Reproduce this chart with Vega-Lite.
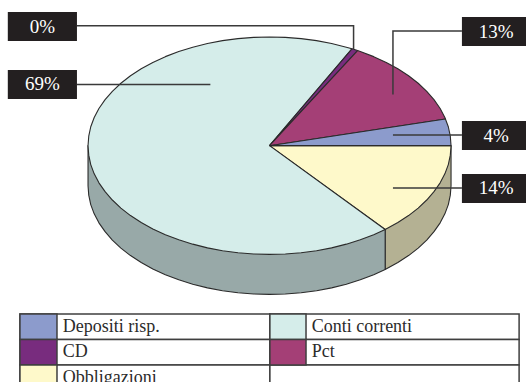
{
  "$schema": "https://vega.github.io/schema/vega-lite/v6.json",
  "width": 526,
  "height": 382,
  "padding": 0,
  "autosize": {"type": "none"},
  "background": "#ffffff",
  "view": {"stroke": null},
  "config": {"style": {"cell": {"stroke": null}}},
  "datasets": {
    "sides": [
      {"part":"Obbligazioni lato","seq":0,"x":100,"y":0},
      {"part":"Obbligazioni lato","seq":1,"x":100,"y":36.8},
      {"part":"Obbligazioni lato","seq":2,"x":99.6,"y":45.5},
      {"part":"Obbligazioni lato","seq":3,"x":98.5,"y":54.2},
      {"part":"Obbligazioni lato","seq":4,"x":96.6,"y":62.7},
      {"part":"Obbligazioni lato","seq":5,"x":94,"y":71},
      {"part":"Obbligazioni lato","seq":6,"x":90.6,"y":79.1},
      {"part":"Obbligazioni lato","seq":7,"x":86.6,"y":86.8},
      {"part":"Obbligazioni lato","seq":8,"x":81.9,"y":94.2},
      {"part":"Obbligazioni lato","seq":9,"x":76.6,"y":101.1},
      {"part":"Obbligazioni lato","seq":10,"x":70.7,"y":107.5},
      {"part":"Obbligazioni lato","seq":11,"x":63.7,"y":113.9},
      {"part":"Obbligazioni lato","seq":12,"x":63.7,"y":77.1},
      {"part":"Obbligazioni lato","seq":13,"x":100,"y":0},
      {"part":"Conti correnti lato","seq":0,"x":63.7,"y":77.1},
      {"part":"Conti correnti lato","seq":1,"x":63.7,"y":113.9},
      {"part":"Conti correnti lato","seq":2,"x":57.4,"y":118.7},
      {"part":"Conti correnti lato","seq":3,"x":50,"y":123.4},
      {"part":"Conti correnti lato","seq":4,"x":42.3,"y":127.4},
      {"part":"Conti correnti lato","seq":5,"x":34.2,"y":130.8},
      {"part":"Conti correnti lato","seq":6,"x":25.9,"y":133.4},
      {"part":"Conti correnti lato","seq":7,"x":17.4,"y":135.3},
      {"part":"Conti correnti lato","seq":8,"x":8.7,"y":136.4},
      {"part":"Conti correnti lato","seq":9,"x":0,"y":136.8},
      {"part":"Conti correnti lato","seq":10,"x":-8.7,"y":136.4},
      {"part":"Conti correnti lato","seq":11,"x":-17.4,"y":135.3},
      {"part":"Conti correnti lato","seq":12,"x":-25.9,"y":133.4},
      {"part":"Conti correnti lato","seq":13,"x":-34.2,"y":130.8},
      {"part":"Conti correnti lato","seq":14,"x":-42.3,"y":127.4},
      {"part":"Conti correnti lato","seq":15,"x":-50,"y":123.4},
      {"part":"Conti correnti lato","seq":16,"x":-57.4,"y":118.7},
      {"part":"Conti correnti lato","seq":17,"x":-64.3,"y":113.4},
      {"part":"Conti correnti lato","seq":18,"x":-70.7,"y":107.5},
      {"part":"Conti correnti lato","seq":19,"x":-76.6,"y":101.1},
      {"part":"Conti correnti lato","seq":20,"x":-81.9,"y":94.2},
      {"part":"Conti correnti lato","seq":21,"x":-86.6,"y":86.8},
      {"part":"Conti correnti lato","seq":22,"x":-90.6,"y":79.1},
      {"part":"Conti correnti lato","seq":23,"x":-94,"y":71},
      {"part":"Conti correnti lato","seq":24,"x":-96.6,"y":62.7},
      {"part":"Conti correnti lato","seq":25,"x":-98.5,"y":54.2},
      {"part":"Conti correnti lato","seq":26,"x":-99.6,"y":45.5},
      {"part":"Conti correnti lato","seq":27,"x":-100,"y":36.8},
      {"part":"Conti correnti lato","seq":28,"x":-100,"y":0},
      {"part":"Conti correnti lato","seq":29,"x":63.7,"y":77.1}
    ],
    "slices": [
      {"part":"Obbligazioni","seq":0,"x":0,"y":0},
      {"part":"Obbligazioni","seq":1,"x":100,"y":0},
      {"part":"Obbligazioni","seq":2,"x":99.6,"y":8.7},
      {"part":"Obbligazioni","seq":3,"x":98.5,"y":17.4},
      {"part":"Obbligazioni","seq":4,"x":96.6,"y":25.9},
      {"part":"Obbligazioni","seq":5,"x":94,"y":34.2},
      {"part":"Obbligazioni","seq":6,"x":90.6,"y":42.3},
      {"part":"Obbligazioni","seq":7,"x":86.6,"y":50},
      {"part":"Obbligazioni","seq":8,"x":81.9,"y":57.4},
      {"part":"Obbligazioni","seq":9,"x":76.6,"y":64.3},
      {"part":"Obbligazioni","seq":10,"x":70.7,"y":70.7},
      {"part":"Obbligazioni","seq":11,"x":63.7,"y":77.1},
      {"part":"Obbligazioni","seq":12,"x":0,"y":0},

      {"part":"Conti correnti","seq":0,"x":0,"y":0},
      {"part":"Conti correnti","seq":1,"x":63.7,"y":77.1},
      {"part":"Conti correnti","seq":2,"x":57.4,"y":81.9},
      {"part":"Conti correnti","seq":3,"x":50,"y":86.6},
      {"part":"Conti correnti","seq":4,"x":42.3,"y":90.6},
      {"part":"Conti correnti","seq":5,"x":34.2,"y":94},
      {"part":"Conti correnti","seq":6,"x":25.9,"y":96.6},
      {"part":"Conti correnti","seq":7,"x":17.4,"y":98.5},
      {"part":"Conti correnti","seq":8,"x":8.7,"y":99.6},
      {"part":"Conti correnti","seq":9,"x":0,"y":100},
      {"part":"Conti correnti","seq":10,"x":-8.7,"y":99.6},
      {"part":"Conti correnti","seq":11,"x":-17.4,"y":98.5},
      {"part":"Conti correnti","seq":12,"x":-25.9,"y":96.6},
      {"part":"Conti correnti","seq":13,"x":-34.2,"y":94},
      {"part":"Conti correnti","seq":14,"x":-42.3,"y":90.6},
      {"part":"Conti correnti","seq":15,"x":-50,"y":86.6},
      {"part":"Conti correnti","seq":16,"x":-57.4,"y":81.9},
      {"part":"Conti correnti","seq":17,"x":-64.3,"y":76.6},
      {"part":"Conti correnti","seq":18,"x":-70.7,"y":70.7},
      {"part":"Conti correnti","seq":19,"x":-76.6,"y":64.3},
      {"part":"Conti correnti","seq":20,"x":-81.9,"y":57.4},
      {"part":"Conti correnti","seq":21,"x":-86.6,"y":50},
      {"part":"Conti correnti","seq":22,"x":-90.6,"y":42.3},
      {"part":"Conti correnti","seq":23,"x":-94,"y":34.2},
      {"part":"Conti correnti","seq":24,"x":-96.6,"y":25.9},
      {"part":"Conti correnti","seq":25,"x":-98.5,"y":17.4},
      {"part":"Conti correnti","seq":26,"x":-99.6,"y":8.7},
      {"part":"Conti correnti","seq":27,"x":-100,"y":0},
      {"part":"Conti correnti","seq":28,"x":-99.6,"y":-8.7},
      {"part":"Conti correnti","seq":29,"x":-98.5,"y":-17.4},
      {"part":"Conti correnti","seq":30,"x":-96.6,"y":-25.9},
      {"part":"Conti correnti","seq":31,"x":-94,"y":-34.2},
      {"part":"Conti correnti","seq":32,"x":-90.6,"y":-42.3},
      {"part":"Conti correnti","seq":33,"x":-86.6,"y":-50},
      {"part":"Conti correnti","seq":34,"x":-81.9,"y":-57.4},
      {"part":"Conti correnti","seq":35,"x":-76.6,"y":-64.3},
      {"part":"Conti correnti","seq":36,"x":-70.7,"y":-70.7},
      {"part":"Conti correnti","seq":37,"x":-64.3,"y":-76.6},
      {"part":"Conti correnti","seq":38,"x":-57.4,"y":-81.9},
      {"part":"Conti correnti","seq":39,"x":-50,"y":-86.6},
      {"part":"Conti correnti","seq":40,"x":-42.3,"y":-90.6},
      {"part":"Conti correnti","seq":41,"x":-34.2,"y":-94},
      {"part":"Conti correnti","seq":42,"x":-25.9,"y":-96.6},
      {"part":"Conti correnti","seq":43,"x":-17.4,"y":-98.5},
      {"part":"Conti correnti","seq":44,"x":-8.7,"y":-99.6},
      {"part":"Conti correnti","seq":45,"x":0,"y":-100},
      {"part":"Conti correnti","seq":46,"x":8.7,"y":-99.6},
      {"part":"Conti correnti","seq":47,"x":17.4,"y":-98.5},
      {"part":"Conti correnti","seq":48,"x":25.9,"y":-96.6},
      {"part":"Conti correnti","seq":49,"x":34.2,"y":-94},
      {"part":"Conti correnti","seq":50,"x":42.3,"y":-90.6},
      {"part":"Conti correnti","seq":51,"x":45.4,"y":-89.1},
      {"part":"Conti correnti","seq":52,"x":0,"y":0},

      {"part":"CD","seq":0,"x":0,"y":0},
      {"part":"CD","seq":1,"x":45.4,"y":-89.1},
      {"part":"CD","seq":2,"x":48.5,"y":-87.5},
      {"part":"CD","seq":3,"x":0,"y":0},

      {"part":"Pct","seq":0,"x":0,"y":0},
      {"part":"Pct","seq":1,"x":48.5,"y":-87.5},
      {"part":"Pct","seq":2,"x":50,"y":-86.6},
      {"part":"Pct","seq":3,"x":57.4,"y":-81.9},
      {"part":"Pct","seq":4,"x":64.3,"y":-76.6},
      {"part":"Pct","seq":5,"x":70.7,"y":-70.7},
      {"part":"Pct","seq":6,"x":76.6,"y":-64.3},
      {"part":"Pct","seq":7,"x":81.9,"y":-57.4},
      {"part":"Pct","seq":8,"x":86.6,"y":-50},
      {"part":"Pct","seq":9,"x":90.6,"y":-42.3},
      {"part":"Pct","seq":10,"x":94,"y":-34.2},
      {"part":"Pct","seq":11,"x":96.6,"y":-25.9},
      {"part":"Pct","seq":12,"x":96.9,"y":-24.5},
      {"part":"Pct","seq":13,"x":0,"y":0},

      {"part":"Depositi risp.","seq":0,"x":0,"y":0},
      {"part":"Depositi risp.","seq":1,"x":96.9,"y":-24.5},
      {"part":"Depositi risp.","seq":2,"x":98.5,"y":-17.4},
      {"part":"Depositi risp.","seq":3,"x":99.6,"y":-8.7},
      {"part":"Depositi risp.","seq":4,"x":100,"y":0},
      {"part":"Depositi risp.","seq":5,"x":0,"y":0}
    ],
    "leaders": [
      {"label":"0%","seq":0,"x":-106.1,"y":-110.4},
      {"label":"0%","seq":1,"x":46.3,"y":-110.4},
      {"label":"0%","seq":2,"x":46.3,"y":-89},
      {"label":"69%","seq":0,"x":-106.1,"y":-56.3},
      {"label":"69%","seq":1,"x":-32.6,"y":-56.3},
      {"label":"13%","seq":0,"x":106,"y":-105.5},
      {"label":"13%","seq":1,"x":68,"y":-105.5},
      {"label":"13%","seq":2,"x":68,"y":-47.1},
      {"label":"4%","seq":0,"x":106,"y":-9.8},
      {"label":"4%","seq":1,"x":68,"y":-9.8},
      {"label":"14%","seq":0,"x":106,"y":38.9},
      {"label":"14%","seq":1,"x":68,"y":38.9}
    ],
    "tags": [
      {"label":"0%","x":-144.2,"x2":-106.1,"y":-123,"y2":-96.3,"tx":-125.1,"ty":-109.6},
      {"label":"69%","x":-144.2,"x2":-106.1,"y":-69.6,"y2":-43,"tx":-125.1,"ty":-56.3},
      {"label":"13%","x":106,"x2":141.3,"y":-118.4,"y2":-91.7,"tx":124.8,"ty":-105},
      {"label":"4%","x":106,"x2":141.3,"y":-22.7,"y2":4,"tx":124.8,"ty":-9.3},
      {"label":"14%","x":106,"x2":141.3,"y":26,"y2":52.7,"tx":124.8,"ty":39.4}
    ],
    "table": [
      {"part":"Depositi risp.","x":-137.5,"x2":-117.1,"y":154.8,"y2":178.3,"tx":-113.9,"ty":166.5},
      {"part":"CD","x":-137.5,"x2":-117.1,"y":178.3,"y2":201.7,"tx":-113.9,"ty":190},
      {"part":"Obbligazioni","x":-137.5,"x2":-117.1,"y":201.7,"y2":225.2,"tx":-113.9,"ty":213.5},
      {"part":"Conti correnti","x":0.2,"x2":20.1,"y":154.8,"y2":178.3,"tx":23.2,"ty":166.5},
      {"part":"Pct","x":0.2,"x2":20.1,"y":178.3,"y2":201.7,"tx":23.2,"ty":190}
    ],
    "tableCells": [
      {"x":-137.5,"x2":0.2,"y":154.8,"y2":178.3},
      {"x":-137.5,"x2":0.2,"y":178.3,"y2":201.7},
      {"x":-137.5,"x2":0.2,"y":201.7,"y2":225.2},
      {"x":0.2,"x2":137.5,"y":154.8,"y2":178.3},
      {"x":0.2,"x2":137.5,"y":178.3,"y2":201.7},
      {"x":0.2,"x2":137.5,"y":201.7,"y2":225.2}
    ]
  },
  "encoding": {
    "x": {"field": "x", "type": "quantitative", "axis": null,
          "scale": {"domain": [-148.5, 141.3], "nice": false, "zero": false}},
    "y": {"field": "y", "type": "quantitative", "axis": null,
          "scale": {"domain": [-134, 217.4], "nice": false, "zero": false, "reverse": true}}
  },
  "layer": [
    {
      "data": {"name": "sides"},
      "mark": {"type": "line", "stroke": "#2b2b2b", "strokeWidth": 1.1, "strokeJoin": "round"},
      "encoding": {
        "order": {"field": "seq", "type": "quantitative"},
        "fill": {"field": "part", "type": "nominal", "legend": null,
                 "scale": {"domain": ["Depositi risp.", "CD", "Obbligazioni", "Conti correnti", "Pct", "Obbligazioni lato", "Conti correnti lato"],
                           "range": ["#8c9bcc", "#782c7e", "#fef9ca", "#d5edea", "#a43f76", "#b4b193", "#98a9a8"]}}
      }
    },
    {
      "data": {"name": "slices"},
      "mark": {"type": "line", "stroke": "#2b2b2b", "strokeWidth": 1.1, "strokeJoin": "round"},
      "encoding": {
        "order": {"field": "seq", "type": "quantitative"},
        "fill": {"field": "part", "type": "nominal", "legend": null}
      }
    },
    {
      "data": {"name": "leaders"},
      "mark": {"type": "line", "stroke": "#3a3a3a", "strokeWidth": 1.5},
      "encoding": {
        "order": {"field": "seq", "type": "quantitative"},
        "detail": {"field": "label", "type": "nominal"}
      }
    },
    {
      "data": {"name": "tags"},
      "mark": {"type": "rect", "fill": "#231f20"},
      "encoding": {"x2": {"field": "x2"}, "y2": {"field": "y2"}}
    },
    {
      "data": {"name": "tags"},
      "mark": {"type": "text", "font": "Liberation Serif", "fontSize": 19, "fill": "#ffffff", "align": "center", "baseline": "middle"},
      "encoding": {
        "x": {"field": "tx", "type": "quantitative"},
        "y": {"field": "ty", "type": "quantitative"},
        "text": {"field": "label", "type": "nominal"}
      }
    },
    {
      "data": {"name": "tableCells"},
      "mark": {"type": "rect", "fill": "#ffffff", "stroke": "#3f3f3f", "strokeWidth": 1.5},
      "encoding": {"x2": {"field": "x2"}, "y2": {"field": "y2"}}
    },
    {
      "data": {"name": "table"},
      "mark": {"type": "rect", "stroke": "#3f3f3f", "strokeWidth": 1.5},
      "encoding": {
        "x2": {"field": "x2"},
        "y2": {"field": "y2"},
        "fill": {"field": "part", "type": "nominal", "legend": null}
      }
    },
    {
      "data": {"name": "table"},
      "mark": {"type": "text", "font": "Liberation Serif", "fontSize": 18, "fill": "#2b2b2b", "align": "left", "baseline": "middle"},
      "encoding": {
        "x": {"field": "tx", "type": "quantitative"},
        "y": {"field": "ty", "type": "quantitative"},
        "text": {"field": "part", "type": "nominal"}
      }
    }
  ]
}
